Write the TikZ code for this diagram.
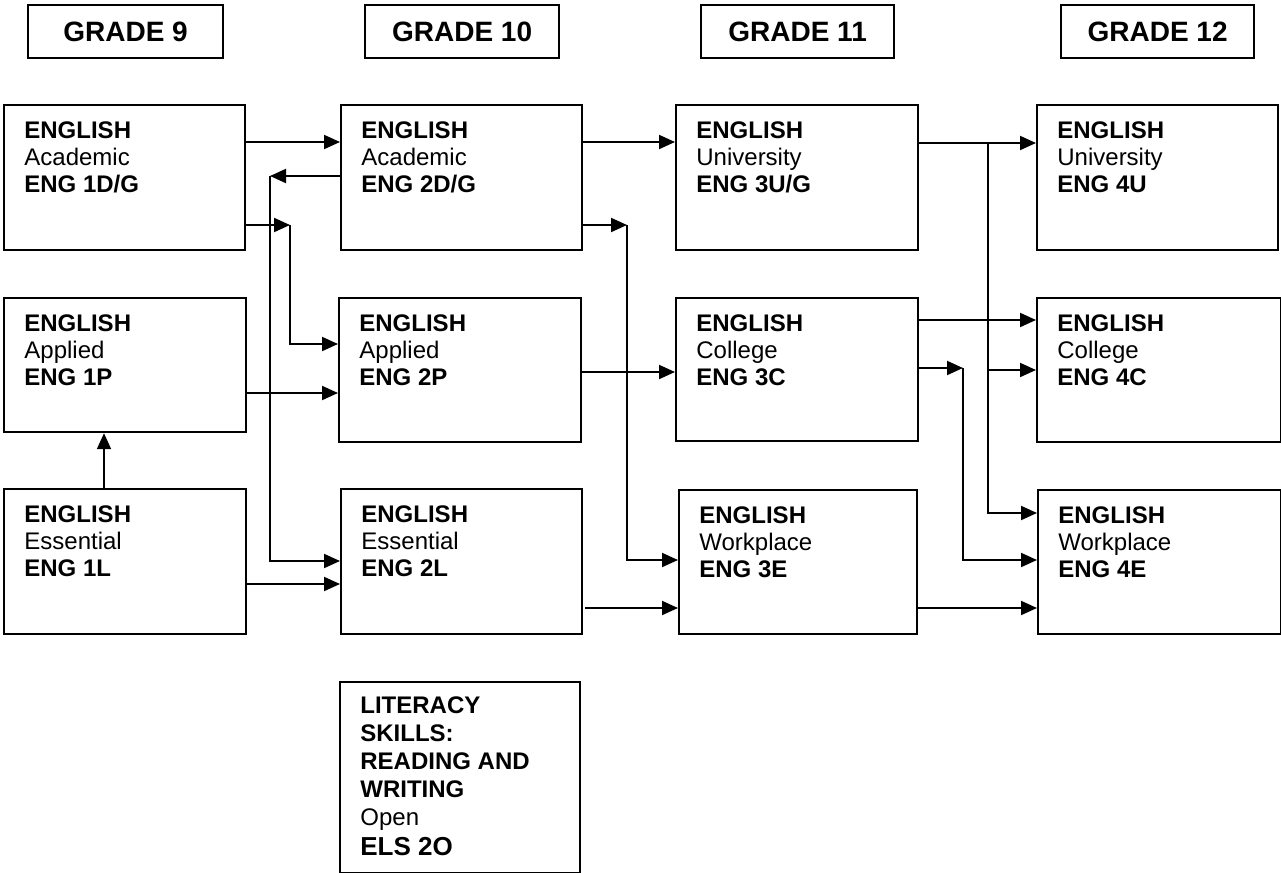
\documentclass[tikz,border=0pt]{standalone}
\usepackage{fontspec}
\setmainfont{Liberation Sans}
\usetikzlibrary{arrows.meta,positioning}
\tikzset{
      arr/.style = {-{Triangle[length=8pt, width=7pt]}, line width=1pt},   % filled heads
     base/.style = {draw, line width=1.1pt, anchor=north west, inner sep=0pt},
    grade/.style = {base, font=\fontsize{14}{16}\selectfont\bfseries},
   course/.style = {base},
    ctext/.style = {anchor=base west, inner sep=0pt, align=left,
                    font=\fontsize{12}{13.5}\selectfont},
        }

\begin{document}
\begin{tikzpicture}[x=0.5pt, y=-0.5pt]
\useasboundingbox (0,0) rectangle (1281,873);

% grade headers
\foreach \n/\x/\w/\t in {g9/27/195/9, g10/364/194/10, g11/700/193/11, g12/1060/193/12}
  \node[grade, minimum width=\w*0.5pt, minimum height=26.5pt] (\n) at (\x,4) {GRADE \t};

% course boxes (text hangs from the last baseline)
\foreach \n/\x/\y/\w/\h/\kind/\code in {
    e1d/3/104/241/145/Academic/{ENG 1D/G},   e2d/340/104/241/145/Academic/{ENG 2D/G},
    e3u/675/104/242/145/University/{ENG 3U/G}, e4u/1036/104/241/145/University/{ENG 4U},
    e1p/3/297/242/134/Applied/{ENG 1P},      e2p/338/297/242/144/Applied/{ENG 2P},
    e3c/675/297/242/143/College/{ENG 3C},    e4c/1036/297/244/144/College/{ENG 4C},
    e1l/3/488/242/145/Essential/{ENG 1L},    e2l/340/488/241/145/Essential/{ENG 2L},
    e3e/678/489/238/144/Workplace/{ENG 3E},  e4e/1037/489/243/144/Workplace/{ENG 4E}}
{
  \node[course, minimum width=\w*0.5pt, minimum height=\h*0.5pt] (\n) at (\x,\y) {};
  \node[ctext] (\n-t) at ([shift={(21,88)}]\n.north west)
       {\textbf{ENGLISH}\\\kind\\\textbf{\code}};
}

\node[course, minimum width=120pt, minimum height=95.5pt] (els) at (339,681) {};
\node[ctext, font=\fontsize{12}{14}\selectfont] (els-t) at ([shift={(21,174)}]els.north west)
     {\textbf{LITERACY}\\\textbf{SKILLS:}\\\textbf{READING AND}\\\textbf{WRITING}\\Open\\[1pt]
      {\fontsize{13}{14}\selectfont\textbf{ELS 2O}}};

% corners
\coordinate (k1) at (270,176);
\coordinate (k2) at (290,225);
\coordinate (k3) at (627,225);
\coordinate (k4) at (963,368);
\coordinate (k5) at (988,143);

% grade 9 -> 10
\draw[arr] (e1d.east |- 0,142) -- (e2d.west |- 0,142);
\draw[arr] (e1d.east |- k2) -- (k2);
\draw[arr] (k2) |- (e2p.west |- 0,344);
\draw[arr] (e2d.west |- k1) -- (k1);
\draw[arr] (k1) |- (e2l.west |- 0,561);
\draw[arr] (e1p.east |- 0,393) -- (e2p.west |- 0,393);
\draw[arr] (e1l.north -| 104,0) -- (e1p.south -| 104,0);
\draw[arr] (e1l.east |- 0,584) -- (e2l.west |- 0,584);

% grade 10 -> 11
\draw[arr] (e2d.east |- 0,142) -- (e3u.west |- 0,142);
\draw[arr] (e2d.east |- k3) -- (k3);
\draw[arr] (k3) |- (e3e.west |- 0,560);
\draw[arr] (e2p.east |- 0,372) -- (e3c.west |- 0,372);
\draw[arr] ([xshift=1pt]e2l.east |- 0,608) -- (e3e.west |- 0,608);

% grade 11 -> 12
\draw[arr] (e3u.east |- k5) -- (e4u.west |- k5);
\draw[arr] (k5) |- (e4e.west |- 0,513);
\draw[arr] (k5 |- 0,370) -- (e4c.west |- 0,370);
\draw[arr] (e3c.east |- 0,320) -- (e4c.west |- 0,320);
\draw[arr] (e3c.east |- k4) -- (k4);
\draw[arr] (k4) |- (e4e.west |- 0,560);
\draw[arr] (e3e.east |- 0,608) -- (e4e.west |- 0,608);
\end{tikzpicture}
\end{document}
